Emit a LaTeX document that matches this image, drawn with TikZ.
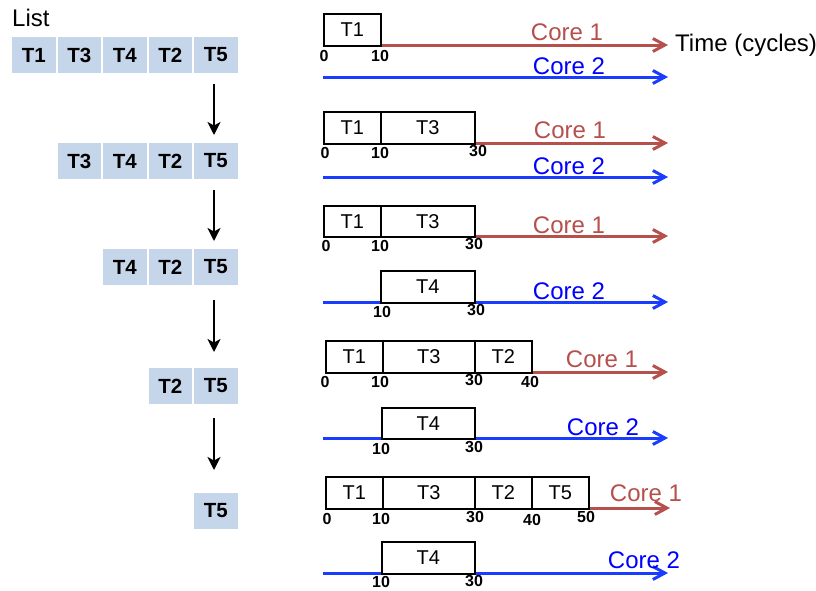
\documentclass[tikz,border=0pt]{standalone}
\usepackage{fontspec}
\setmainfont{Liberation Sans}
\usetikzlibrary{arrows.meta}
\definecolor{cellblue}{HTML}{C5D6EA}
\definecolor{corered}{HTML}{B5504C}
\definecolor{coreblue}{HTML}{1A3CFF}
\definecolor{textblue}{HTML}{0000FF}
\tikzset{
  cell/.style={fill=cellblue, minimum width=43.5pt, minimum height=36pt, inner sep=0pt, font=\fontsize{20.5}{20.5}\selectfont\bfseries},
  task/.style={draw=black, line width=1.6pt, fill=white, inner sep=0pt, font=\fontsize{20}{20}\selectfont},
  redline/.style={draw=corered, line width=3pt, -{Straight Barb[length=12pt,width=13pt,line width=3pt]}},
  blueline/.style={draw=coreblue, line width=3pt, -{Straight Barb[length=12pt,width=13pt,line width=3pt]}},
  redlbl/.style={text=corered, font=\fontsize{24}{24}\selectfont, inner sep=0pt},
  bluelbl/.style={text=textblue, font=\fontsize{24}{24}\selectfont, inner sep=0pt},
  tick/.style={font=\fontsize{16}{16}\selectfont\bfseries, inner sep=0pt},
  downarrow/.style={draw=black, line width=2.2pt, -{Stealth[length=13pt,width=13pt,inset=3.5pt]}},
  plain/.style={font=\fontsize{24}{24}\selectfont, inner sep=0pt}
}
\newcommand{\taskbox}[6]{% name, x1, y1, x2, y2, label
  \node[task, minimum width={#4-#2}, minimum height={#5-#3}, anchor=north west] (#1) at (#2,#3) {#6};}
\begin{document}
\begin{tikzpicture}[x=1pt,y=-1pt]
\useasboundingbox (0,0) rectangle (816,590);

% ---------------- List ----------------
\node[plain, anchor=west] (listlbl) at (12,18) {List};
% row 1
\node[cell] (r1a) at (33.75,55) {T1};
\node[cell] (r1b) at (79.25,55) {T3};
\node[cell] (r1c) at (124.75,55) {T4};
\node[cell] (r1d) at (170.25,55) {T2};
\node[cell] (r1e) at (215.75,55) {T5};
% row 2
\node[cell] (r2b) at (79.25,161) {T3};
\node[cell] (r2c) at (124.75,161) {T4};
\node[cell] (r2d) at (170.25,161) {T2};
\node[cell] (r2e) at (215.75,161) {T5};
% row 3
\node[cell] (r3c) at (124.75,267) {T4};
\node[cell] (r3d) at (170.25,267) {T2};
\node[cell] (r3e) at (215.75,267) {T5};
% row 4
\node[cell] (r4d) at (170.25,386) {T2};
\node[cell] (r4e) at (215.75,386) {T5};
% row 5
\node[cell] (r5e) at (215.75,511) {T5};

% down arrows
\coordinate (d1s) at (214,84);  \coordinate (d1e) at (214,135);
\coordinate (d2s) at (214,190); \coordinate (d2e) at (214,241);
\coordinate (d3s) at (214,300); \coordinate (d3e) at (214,352);
\coordinate (d4s) at (214,418); \coordinate (d4e) at (214,470);
\draw[downarrow] (d1s) -- (d1e);
\draw[downarrow] (d2s) -- (d2e);
\draw[downarrow] (d3s) -- (d3e);
\draw[downarrow] (d4s) -- (d4e);

% ---------------- Panel 1 ----------------
\coordinate (p1rs) at (323,45);  \coordinate (p1re) at (668,45);
\coordinate (p1bs) at (323,77);  \coordinate (p1be) at (668,77);
\draw[redline] (p1rs) -- (p1re);
\draw[blueline] (p1bs) -- (p1be);
\taskbox{p1t1}{323}{13}{380}{45}{T1}
\node[tick] (p1k0) at (324,56) {0};
\node[tick] (p1k10) at (380,56) {10};
\node[redlbl] (p1c1) at (567,32) {Core 1};
\node[bluelbl] (p1c2) at (569,66) {Core 2};
\node[plain, anchor=west] (timelbl) at (675,45) {Time (cycles)};

% ---------------- Panel 2 ----------------
\coordinate (p2rs) at (323,143); \coordinate (p2re) at (668,143);
\coordinate (p2bs) at (323,177); \coordinate (p2be) at (668,177);
\draw[redline] (p2rs) -- (p2re);
\draw[blueline] (p2bs) -- (p2be);
\taskbox{p2t1}{323}{111}{380}{143}{T1}
\taskbox{p2t3}{380}{111}{474}{143}{T3}
\node[tick] (p2k0) at (325,153) {0};
\node[tick] (p2k10) at (380,153) {10};
\node[tick] (p2k30) at (478,151) {30};
\node[redlbl] (p2c1) at (570,130) {Core 1};
\node[bluelbl] (p2c2) at (569,166) {Core 2};

% ---------------- Panel 3 ----------------
\coordinate (p3rs) at (323,236); \coordinate (p3re) at (668,236);
\coordinate (p3bs) at (323,302); \coordinate (p3be) at (668,302);
\draw[redline] (p3rs) -- (p3re);
\draw[blueline] (p3bs) -- (p3be);
\taskbox{p3t1}{323}{205}{380}{236}{T1}
\taskbox{p3t3}{380}{205}{474}{236}{T3}
\taskbox{p3t4}{380}{270}{474}{302}{T4}
\node[tick] (p3k0) at (326,246) {0};
\node[tick] (p3k10) at (380,246) {10};
\node[tick] (p3k30) at (474,244) {30};
\node[tick] (p3k10b) at (382,312) {10};
\node[tick] (p3k30b) at (476,310) {30};
\node[redlbl] (p3c1) at (569,225) {Core 1};
\node[bluelbl] (p3c2) at (569,291) {Core 2};

% ---------------- Panel 4 ----------------
\coordinate (p4rs) at (325,372); \coordinate (p4re) at (668,372);
\coordinate (p4bs) at (323,438); \coordinate (p4be) at (668,438);
\draw[redline] (p4rs) -- (p4re);
\draw[blueline] (p4bs) -- (p4be);
\taskbox{p4t1}{325}{340}{382}{372}{T1}
\taskbox{p4t3}{382}{340}{474}{372}{T3}
\taskbox{p4t2}{474}{340}{531}{372}{T2}
\taskbox{p4t4}{381}{407}{474}{438}{T4}
\node[tick] (p4k0) at (325,382) {0};
\node[tick] (p4k10) at (380,382) {10};
\node[tick] (p4k30) at (474,380) {30};
\node[tick] (p4k40) at (530,382) {40};
\node[tick] (p4k10b) at (381,449) {10};
\node[tick] (p4k30b) at (474,447) {30};
\node[redlbl] (p4c1) at (602,359) {Core 1};
\node[bluelbl] (p4c2) at (603,427) {Core 2};

% ---------------- Panel 5 ----------------
\coordinate (p5rs) at (325,508); \coordinate (p5re) at (670,508);
\coordinate (p5bs) at (323,573); \coordinate (p5be) at (668,573);
\draw[redline] (p5rs) -- (p5re);
\draw[blueline] (p5bs) -- (p5be);
\taskbox{p5t1}{325}{476}{382}{508}{T1}
\taskbox{p5t3}{382}{476}{474}{508}{T3}
\taskbox{p5t2}{474}{476}{531}{508}{T2}
\taskbox{p5t5}{531}{476}{588}{508}{T5}
\taskbox{p5t4}{381}{541}{474}{573}{T4}
\node[tick] (p5k0) at (327,519) {0};
\node[tick] (p5k10) at (381,519) {10};
\node[tick] (p5k30) at (475,517) {30};
\node[tick] (p5k40) at (532,520) {40};
\node[tick] (p5k50) at (586,517) {50};
\node[tick] (p5k10b) at (381,582) {10};
\node[tick] (p5k30b) at (474,581) {30};
\node[redlbl] (p5c1) at (646,493) {Core 1};
\node[bluelbl] (p5c2) at (644,560) {Core 2};
\end{tikzpicture}
\end{document}
